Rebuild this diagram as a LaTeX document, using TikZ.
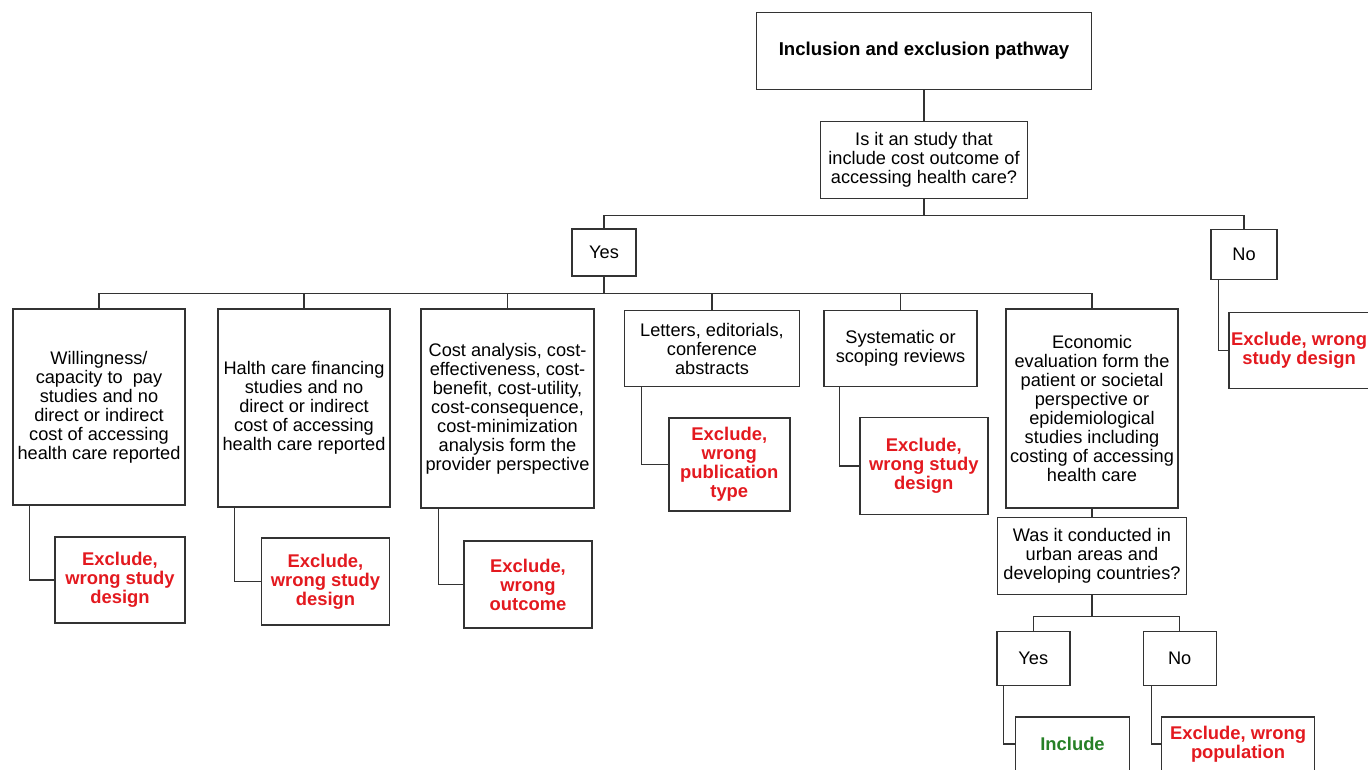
\documentclass[tikz,border=0pt]{standalone}
\usepackage{fontspec}
\setmainfont{Liberation Sans}
\usepackage{tikz}
\definecolor{xred}{rgb}{0.89, 0.1, 0.12}
\definecolor{xgreen}{rgb}{0.15, 0.5, 0.15}
\definecolor{xline}{rgb}{0.2, 0.2, 0.2}
\tikzset{box/.style = {draw=xline, line width=1.4pt, align=center, inner sep=1pt,
                       font=\fontsize{18.2}{19}\selectfont},
         excl/.style = {box, text=xred, font=\fontsize{18.4}{19}\selectfont\bfseries},
         incl/.style = {box, text=xgreen, font=\fontsize{18.4}{19}\selectfont\bfseries},
         link/.style = {draw=xline, line width=1.4pt}}

\begin{document}
\begin{tikzpicture}[x=1pt, y=-1pt]
    \useasboundingbox (0, 0) rectangle (1368, 769);
    \clip (0, 0) rectangle (1368, 769);

    \node [box, minimum width=335, minimum height=77, font=\fontsize{18.6}{19}\selectfont\bfseries] (title) at (924, 51) {Inclusion and exclusion pathway};
    \node [box, minimum width=207, minimum height=77] (ask) at (924, 160) {Is it an study that\\include cost outcome of\\accessing health care?};
    \node [box, minimum width=64, minimum height=47] (yes) at (604, 252.5) {Yes};
    \node [box, minimum width=66, minimum height=50] (no) at (1244, 254.3) {No};

    \node [box, minimum width=172, minimum height=196] (pay) at (99, 407) {Willingness/\\capacity to\ \ pay\\studies and no\\direct or indirect\\cost of accessing\\health care reported};
    \node [box, minimum width=172, minimum height=198] (fin) at (304, 408) {Halth care financing\\studies and no\\direct or indirect\\cost of accessing\\health care reported};
    \node [box, minimum width=173, minimum height=199] (cost) at (507.5, 408.5) {Cost analysis, cost-\\effectiveness, cost-\\benefit, cost-utility,\\cost-consequence,\\cost-minimization\\analysis form the\\provider perspective};
    \node [box, minimum width=175, minimum height=76] (letter) at (712, 348.7) {Letters, editorials,\\conference\\abstracts};
    \node [box, minimum width=153, minimum height=76] (review) at (900.5, 348.7) {Systematic or\\scoping reviews};
    \node [box, minimum width=172, minimum height=199] (econ) at (1092, 408.6) {Economic\\evaluation form the\\patient or societal\\perspective or\\epidemiological\\studies including\\costing of accessing\\health care};
    \node [box, minimum width=189, minimum height=77] (urban) at (1092, 556) {Was it conducted in\\urban areas and\\developing countries?};
    \node [box, minimum width=73, minimum height=54] (yesb) at (1033.3, 658.7) {Yes};
    \node [box, minimum width=73, minimum height=54] (nob) at (1179.7, 658.7) {No};

    \node [excl, minimum width=130, minimum height=86] (xpay) at (120, 580) {Exclude,\\wrong study\\design};
    \node [excl, minimum width=128, minimum height=87] (xfin) at (325.5, 581.5) {Exclude,\\wrong study\\design};
    \node [excl, minimum width=128, minimum height=87] (xcost) at (528, 584.5) {Exclude,\\wrong\\outcome};
    \node [excl, minimum width=121, minimum height=93] (xletter) at (729.3, 464.3) {Exclude,\\wrong\\publication\\type};
    \node [excl, minimum width=128, minimum height=97] (xreview) at (923.8, 466) {Exclude,\\wrong study\\design};
    \node [excl, minimum width=140, minimum height=76] (xno) at (1299, 350.3) {Exclude, wrong\\study design};
    \node [incl, minimum width=114, minimum height=54] (inc) at (1072.5, 744) {Include};
    \node [excl, minimum width=153, minimum height=54] (xpop) at (1238, 744) {Exclude, wrong\\population};

    \draw [link] (title) -- (ask);
    \foreach \n in {yes, no} {
      \draw [link] (ask.south) -- ++(0, 16.5) -| (\n.north);
    }
    \foreach \n in {pay, fin, cost, letter, review, econ} {
      \draw [link] (yes.south) -- ++(0, 16.5) -| (\n.north);
    }
    \draw [link] (econ) -- (urban);
    \foreach \n in {yesb, nob} {
      \draw [link] (urban.south) -- ++(0, 21.5) -| (\n.north);
    }
    \foreach \a/\b/\d in {pay/xpay/17, fin/xfin/17.4, cost/xcost/18.3, letter/xletter/17.5, review/xreview/16.2, no/xno/8.4, yesb/inc/7.6, nob/xpop/8.7} {
      \draw [link] ([xshift=\d pt]\a.south west) |- (\b.west);
    }
  \end{tikzpicture}
\end{document}
